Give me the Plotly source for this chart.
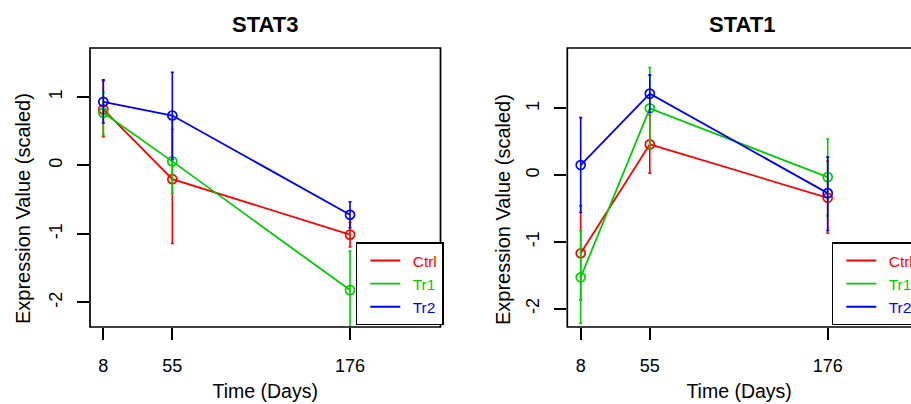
import plotly.graph_objects as go

days = [8, 55, 176]
groups = ["Ctrl", "Tr1", "Tr2"]
colors = ["#FF0000", "#00CD00", "#0000FF"]
y_tickvals = [-2, -1, 0, 1]
y_ticktext = ["-2", "-1", "0", "1"]

# STAT3 means and error-bar ends
stat3_ctrl = [0.82, -0.20, -1.01]
stat3_ctrl_hi = [1.24, 0.73, -0.83]
stat3_ctrl_lo = [0.42, -1.14, -1.19]
stat3_tr1 = [0.77, 0.06, -1.82]
stat3_tr1_hi = [1.07, 0.53, -1.25]
stat3_tr1_lo = [0.45, -0.41, -2.39]
stat3_tr2 = [0.93, 0.73, -0.72]
stat3_tr2_hi = [1.25, 1.36, -0.53]
stat3_tr2_lo = [0.62, 0.09, -0.91]

# STAT1 means and error-bar ends
stat1_ctrl = [-1.17, 0.46, -0.34]
stat1_ctrl_hi = [-0.46, 0.90, 0.21]
stat1_ctrl_lo = [-1.87, 0.03, -0.87]
stat1_tr1 = [-1.53, 1.00, -0.03]
stat1_tr1_hi = [-0.83, 1.61, 0.54]
stat1_tr1_lo = [-2.22, 0.39, -0.61]
stat1_tr2 = [0.15, 1.22, -0.27]
stat1_tr2_hi = [0.86, 1.50, 0.27]
stat1_tr2_lo = [-0.56, 0.94, -0.83]

panels = [
    ("STAT3", "x", "y", "legend",
     [(stat3_ctrl, stat3_ctrl_hi, stat3_ctrl_lo),
      (stat3_tr1, stat3_tr1_hi, stat3_tr1_lo),
      (stat3_tr2, stat3_tr2_hi, stat3_tr2_lo)]),
    ("STAT1", "x2", "y2", "legend2",
     [(stat1_ctrl, stat1_ctrl_hi, stat1_ctrl_lo),
      (stat1_tr1, stat1_tr1_hi, stat1_tr1_lo),
      (stat1_tr2, stat1_tr2_hi, stat1_tr2_lo)]),
]

FONT = "Liberation Sans, Arial, Helvetica, sans-serif"
W, H = 911, 404

fig = go.Figure()
for title, xa, ya, leg, series in panels:
    for name, col, (m, hi, lo) in zip(groups, colors, series):
        fig.add_trace(go.Scatter(
            x=days, y=m, xaxis=xa, yaxis=ya, mode="lines+markers",
            line=dict(color=col, width=1.8),
            marker=dict(symbol="circle-open", size=9, color=col, line=dict(width=1.7, color=col)),
            error_y=dict(type="data", symmetric=False,
                         array=[h - v for h, v in zip(hi, m)],
                         arrayminus=[v - l for v, l in zip(m, lo)],
                         color=col, thickness=1.6, width=1.5),
            showlegend=False, cliponaxis=True, name=name,
        ))
    for name, col in zip(groups, colors):
        fig.add_trace(go.Scatter(
            x=[None], y=[None], xaxis=xa, yaxis=ya, mode="lines",
            line=dict(color=col, width=1.8),
            name=f'<span style="color:{col}">&nbsp;&#8201;{name}</span>',
            legend=leg, showlegend=True,
        ))

axis_common = dict(
    showgrid=False, zeroline=False, showline=False,
    ticks="outside", ticklen=12, tickwidth=1.6, tickcolor="black",
    tickfont=dict(family=FONT, size=18, color="black"),
)

legend_common = dict(
    xanchor="left", yanchor="top", bgcolor="white", bordercolor="black",
    borderwidth=1.6, indentation=8, font=dict(family=FONT, size=15.5),
)

fig.update_layout(
    width=W, height=H,
    margin=dict(l=0, r=0, t=0, b=0, autoexpand=False),
    paper_bgcolor="white", plot_bgcolor="white",
    font=dict(family=FONT, color="black"),
    xaxis=dict(domain=[90 / W, 440.5 / W], range=[-1.06, 237.6],
               tickvals=days, ticktext=[str(d) for d in days], anchor="y",
               ticklabelstandoff=10,
               title=dict(text="Time (Days)", font=dict(family=FONT, size=19.5), standoff=9),
               **axis_common),
    yaxis=dict(domain=[77 / H, 356 / H], range=[-2.359, 1.716], anchor="x",
               tickvals=y_tickvals, ticktext=y_ticktext, tickangle=-90,
               ticklabelstandoff=8, **axis_common),
    xaxis2=dict(domain=[567.3 / W, 1.0], range=[-1.11, 232.66],
                tickvals=days, ticktext=[str(d) for d in days], anchor="y2",
                ticklabelstandoff=10,
                title=dict(text="Time (Days)", font=dict(family=FONT, size=19.5), standoff=9),
                **axis_common),
    yaxis2=dict(domain=[77 / H, 356 / H], range=[-2.274, 1.903], anchor="x2",
                tickvals=y_tickvals, ticktext=y_ticktext, tickangle=-90,
                ticklabelstandoff=8, **axis_common),
    legend=dict(x=355.7 / W, y=(H - 242.3) / H, **legend_common),
    legend2=dict(x=831.7 / W, y=(H - 242.3) / H, **legend_common),
    shapes=[
        dict(type="rect", xref="x domain", yref="y domain", x0=0, x1=1, y0=0, y1=1,
             line=dict(color="black", width=1.7), layer="above"),
        dict(type="rect", xref="x2 domain", yref="y2 domain", x0=0, x1=1.05, y0=0, y1=1,
             line=dict(color="black", width=1.7), layer="above"),
    ],
    annotations=[
        dict(text="<b>STAT3</b>", xref="x domain", x=0.5, yref="paper", y=(H - 24) / H,
             showarrow=False, xanchor="center", yanchor="middle",
             font=dict(family=FONT, size=22, color="black")),
        dict(text="<b>STAT1</b>", xref="paper", x=741.5 / W, yref="paper", y=(H - 24) / H,
             showarrow=False, xanchor="center", yanchor="middle",
             font=dict(family=FONT, size=22, color="black")),
        dict(text="Expression Value (scaled)", textangle=-90, xref="paper", x=23 / W,
             yref="paper", y=(H - 209) / H, showarrow=False, xanchor="center", yanchor="middle",
             font=dict(family=FONT, size=20, color="black")),
        dict(text="Expression Value (scaled)", textangle=-90, xref="paper", x=503 / W,
             yref="paper", y=(H - 209) / H, showarrow=False, xanchor="center", yanchor="middle",
             font=dict(family=FONT, size=20, color="black")),
    ],
)

fig.write_html("out.html", config={"displayModeBar": False},
               post_script="document.body.style.margin='0';")
